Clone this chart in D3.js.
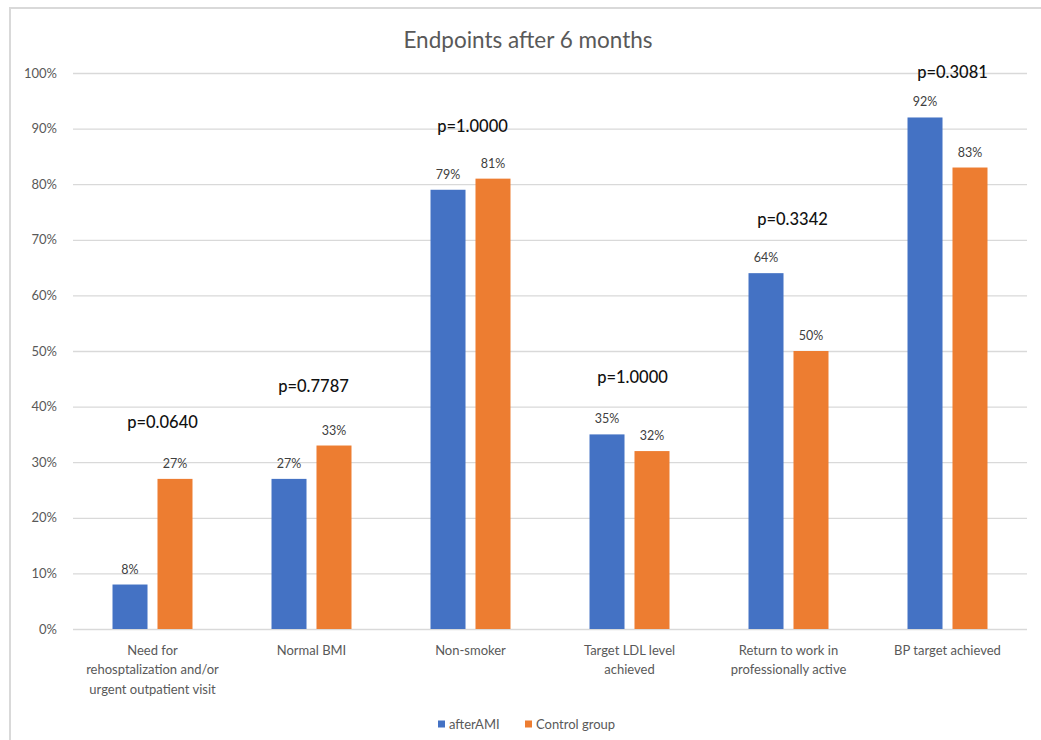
<!DOCTYPE html>
<html>
<head>
<meta charset="utf-8">
<script src="https://cdn.jsdelivr.net/npm/d3@7"></script>
<style>
  html, body { margin: 0; padding: 0; background: #fff; }
  svg { display: block; }
  text { font-family: Lato, "Open Sans", sans-serif; }
</style>
</head>
<body>
<svg id="chart" width="1041" height="740"></svg>
<script>
// ---- data ----
const title = "Endpoints after 6 months";
const categories = [
  "Need for\nrehosptalization and/or\nurgent outpatient visit",
  "Normal BMI",
  "Non-smoker",
  "Target LDL level\nachieved",
  "Return to work in\nprofessionally active",
  "BP target achieved"
];
const seriesNames = ["afterAMI", "Control group"];
const afterAMI = [8, 27, 79, 35, 64, 92];
const controlGroup = [27, 33, 81, 32, 50, 83];
const pValues = ["p=0.0640", "p=0.7787", "p=1.0000", "p=1.0000", "p=0.3342", "p=0.3081"];
const pLevels = [37.2, 43.7, 90.5, 45.3, 73.7, 100.2];
const yTicks = [0, 10, 20, 30, 40, 50, 60, 70, 80, 90, 100];

// ---- layout ----
const W = 1041, H = 740;
const plot = { left: 73, right: 1027, top: 73, bottom: 629 };
const colors = ["#4472C4", "#ED7D31"];
const pOffsets = [10, 2, 2, 3, 4, 5];

const svg = d3.select("#chart");

// frame
svg.append("rect").attr("x", 10).attr("y", 8).attr("width", W + 10).attr("height", H + 10)
  .attr("fill", "#fff").attr("stroke", "#d9d9d9").attr("stroke-width", 2);

const x0 = d3.scaleBand().domain(categories).range([plot.left, plot.right]).paddingInner(0).paddingOuter(0);
const x1 = d3.scaleBand().domain(seriesNames).range([0, x0.bandwidth()]).paddingInner(0.222).paddingOuter(0.878);
const y = d3.scaleLinear().domain([0, 100]).range([plot.bottom, plot.top]);

// gridlines
const yAxis = d3.axisLeft(y).tickValues(yTicks).tickFormat(d => d + "%")
  .tickSize(-(plot.right - plot.left)).tickPadding(16);
const gy = svg.append("g").attr("transform", `translate(${plot.left},0)`).call(yAxis);
gy.select(".domain").remove();
gy.selectAll(".tick line").attr("stroke", "#d9d9d9").attr("stroke-width", 1.3);
gy.selectAll(".tick text").attr("fill", "#595959").attr("font-size", 13)
  .attr("font-family", "Lato, sans-serif");

// title
svg.append("text").attr("x", 528).attr("y", 40).attr("dy", "0.35em")
  .attr("text-anchor", "middle").attr("font-size", 22.5).attr("fill", "#595959").text(title);

// bars
const rows = categories.map((c, i) => ({ cat: c, vals: [afterAMI[i], controlGroup[i]] }));
const groups = svg.append("g").selectAll("g").data(rows).join("g")
  .attr("transform", d => `translate(${x0(d.cat)},0)`);

groups.selectAll("rect").data(d => d.vals.map((v, k) => ({ s: seriesNames[k], v, k }))).join("rect")
  .attr("x", d => x1(d.s)).attr("width", x1.bandwidth())
  .attr("y", d => y(d.v)).attr("height", d => y(0) - y(d.v))
  .attr("fill", d => colors[d.k]);

groups.selectAll("text.val").data(d => d.vals.map((v, k) => ({ s: seriesNames[k], v, k }))).join("text")
  .attr("class", "val")
  .attr("x", d => x1(d.s) + x1.bandwidth() / 2).attr("y", d => y(d.v) - 11)
  .attr("text-anchor", "middle").attr("font-size", 12.5).attr("fill", "#404040")
  .text(d => d.v + "%");

// p-value annotations
svg.append("g").selectAll("text").data(categories).join("text")
  .attr("x", (c, i) => x0(c) + x0.bandwidth() / 2 + pOffsets[i])
  .attr("y", (c, i) => y(pLevels[i])).attr("dy", "0.35em")
  .attr("text-anchor", "middle").attr("font-size", 16.5).attr("font-weight", 500)
  .attr("fill", "#111").text((c, i) => pValues[i]);

// x-axis category labels
const xl = svg.append("g").selectAll("text").data(categories).join("text")
  .attr("x", c => x0(c) + x0.bandwidth() / 2).attr("y", 650)
  .attr("text-anchor", "middle").attr("font-size", 13).attr("fill", "#595959");
xl.selectAll("tspan").data(c => c.split("\n")).join("tspan")
  .attr("x", function() { return d3.select(this.parentNode).attr("x"); })
  .attr("dy", (d, i) => i === 0 ? "0.35em" : 19.5)
  .text(d => d);

// legend
const legendX = [438, 525];
const lg = svg.append("g").selectAll("g").data(seriesNames).join("g")
  .attr("transform", (d, i) => `translate(${legendX[i]},724)`);
lg.append("rect").attr("x", 0).attr("y", -3.5).attr("width", 7).attr("height", 7)
  .attr("fill", (d, i) => colors[i]);
lg.append("text").attr("x", 11).attr("dy", "0.35em").attr("font-size", 13)
  .attr("fill", "#595959").text(d => d);
</script>
</body>
</html>
